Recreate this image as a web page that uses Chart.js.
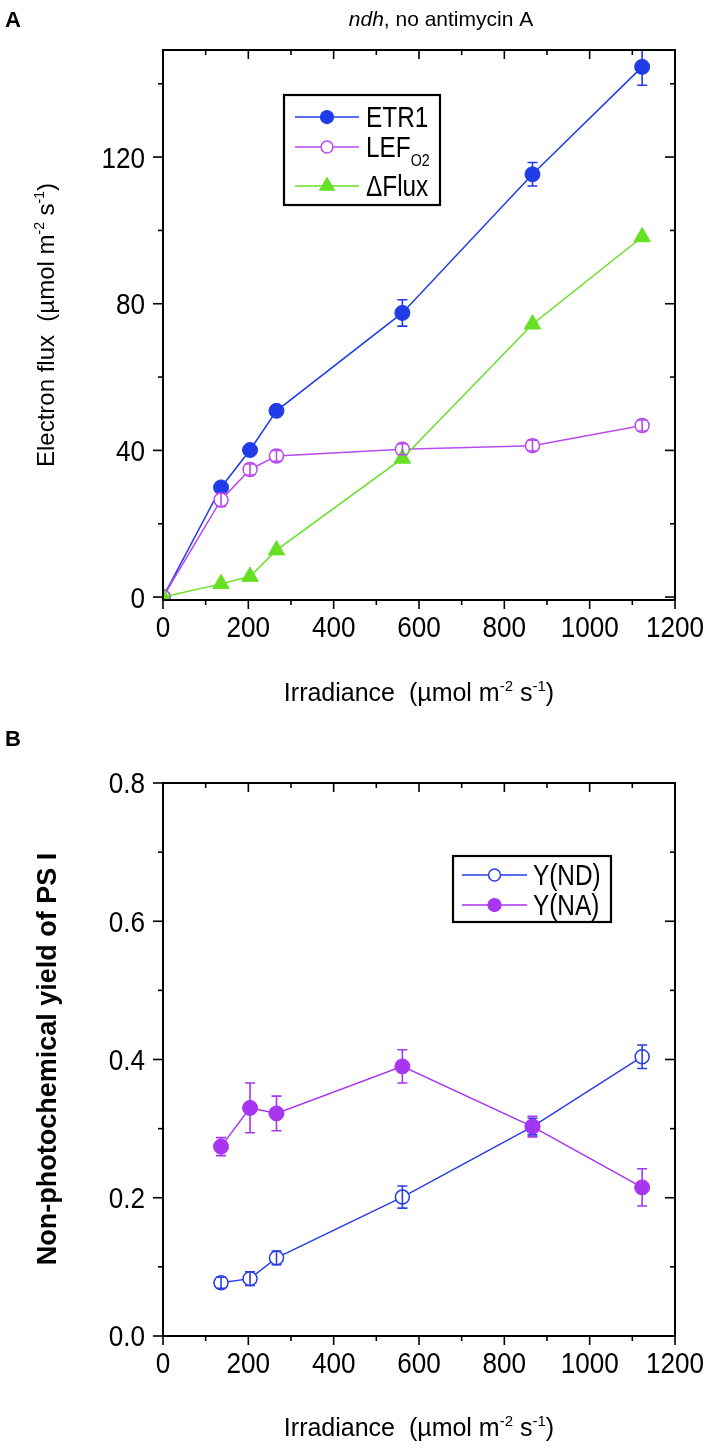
<!DOCTYPE html>
<html>
<head>
<meta charset="utf-8">
<script src="https://cdn.jsdelivr.net/npm/chart.js@4.4.1/dist/chart.umd.min.js"></script>
<style>
  html, body { margin: 0; padding: 0; background: #fff; }
  body { width: 711px; height: 1448px; position: relative; overflow: hidden; }
  .panel { position: absolute; left: 0; width: 711px; }
  #panelA { top: 0; height: 720px; }
  #panelB { top: 720px; height: 728px; }
</style>
</head>
<body>
<div class="panel" id="panelA"><canvas id="chartA" width="711" height="720"></canvas></div>
<div class="panel" id="panelB"><canvas id="chartB" width="711" height="728"></canvas></div>
<script>
// panel A: electron flux vs irradiance
const irradianceA = [0, 136, 204, 266, 561, 866, 1123];
const etr1 = [0, 29.9, 40.1, 50.8, 77.5, 115.3, 144.6];
const etr1Err = [0, 1.2, 1.2, 1.2, 3.6, 3.2, 5.0];
const lefO2 = [0, 26.5, 34.8, 38.5, 40.3, 41.3, 46.8];
const lefO2Err = [0, 1.8, 1.5, 1.5, 1.5, 1.5, 1.5];
const deltaFlux = [0, 3.6, 5.6, 12.8, 37.8, 74.4, 98.2];

// panel B: non-photochemical yield of PS I
const irradianceB = [136, 204, 266, 561, 866, 1123];
const yND = [0.077, 0.083, 0.113, 0.201, 0.303, 0.404];
const yNDErr = [0.008, 0.01, 0.01, 0.016, 0.012, 0.017];
const yNA = [0.274, 0.330, 0.322, 0.390, 0.303, 0.215];
const yNAErr = [0.013, 0.036, 0.025, 0.024, 0.015, 0.027];

// tick values
const xMajor = [0, 200, 400, 600, 800, 1000, 1200];
const xMinor = [100, 300, 500, 700, 900, 1100];
const yMajorA = [0, 40, 80, 120];
const yMinorA = [20, 60, 100, 140];
const yMajorB = [0, 0.2, 0.4, 0.6, 0.8];
const yMinorB = [0.1, 0.3, 0.5, 0.7];

const SANS = "'Liberation Sans', Arial, sans-serif";

const pts = (xs, ys) => xs.map((x, i) => ({ x, y: ys[i] }));

// draws text made of pieces (normal, italic, bold, super/subscript), squeezed by sx
function drawRich(ctx, parts, x, y, size, align, sx = 1) {
  const fontFor = k => {
    const small = k === "sup" || k === "sub";
    const w = (k === "b" || k === "B") ? "bold " : "";
    return (k === "i" ? "italic " : "") + w + (small ? Math.round(size * 0.6) : size) + "px " + SANS;
  };
  let total = 0;
  for (const [t, k] of parts) { ctx.font = fontFor(k); total += ctx.measureText(t).width; }
  let cx = align === "left" ? 0 : align === "right" ? -total : -total / 2;
  ctx.save();
  ctx.translate(x, y);
  ctx.scale(sx, 1);
  ctx.textAlign = "left";
  ctx.textBaseline = "alphabetic";
  for (const [t, k] of parts) {
    ctx.font = fontFor(k);
    const dy = k === "sup" ? -size * 0.42 : k === "sub" ? size * 0.3 : 0;
    ctx.fillText(t, cx, dy);
    cx += ctx.measureText(t).width;
  }
  ctx.restore();
}

function drawMarker(ctx, style, r, x, y, fill, stroke) {
  ctx.beginPath();
  if (style === "triangle") {
    ctx.moveTo(x, y - r);
    ctx.lineTo(x + r * Math.sin(Math.PI / 3), y + r / 2);
    ctx.lineTo(x - r * Math.sin(Math.PI / 3), y + r / 2);
    ctx.closePath();
  } else {
    ctx.arc(x, y, r, 0, Math.PI * 2);
  }
  ctx.fillStyle = fill;
  ctx.fill();
  ctx.strokeStyle = stroke;
  ctx.lineWidth = 1.5;
  ctx.stroke();
}

const errorBars = {
  id: "errorBars",
  afterDatasetsDraw(chart) {
    const { ctx, chartArea: a, scales: { x, y } } = chart;
    ctx.save();
    ctx.beginPath();
    ctx.rect(a.left, a.top, a.right - a.left, a.bottom - a.top);
    ctx.clip();
    chart.data.datasets.forEach(ds => {
      if (!ds.errors) return;
      ctx.strokeStyle = ds.borderColor;
      ctx.lineWidth = 1.6;
      ds.data.forEach((p, i) => {
        const e = ds.errors[i];
        if (!e) return;
        const px = x.getPixelForValue(p.x);
        const top = y.getPixelForValue(p.y + e);
        const bot = y.getPixelForValue(p.y - e);
        ctx.beginPath();
        ctx.moveTo(px, top); ctx.lineTo(px, bot);
        ctx.moveTo(px - 5, top); ctx.lineTo(px + 5, top);
        ctx.moveTo(px - 5, bot); ctx.lineTo(px + 5, bot);
        ctx.stroke();
      });
    });
    ctx.restore();
  }
};

// box, ticks on four sides and tick labels
const frame = {
  id: "frame",
  afterDatasetsDraw(chart, args, opts) {
    const { ctx, chartArea: a, scales: { x, y } } = chart;
    ctx.save();
    ctx.strokeStyle = "#000";
    ctx.lineWidth = 1.6;
    const seg = (x1, y1, x2, y2) => { ctx.beginPath(); ctx.moveTo(x1, y1); ctx.lineTo(x2, y2); ctx.stroke(); };
    const xt = (vals, len) => vals.forEach(v => {
      const px = x.getPixelForValue(v);
      seg(px, a.bottom, px, a.bottom + len);
      seg(px, a.top, px, a.top + len);
    });
    const yt = (vals, len) => vals.forEach(v => {
      const py = y.getPixelForValue(v);
      if (py < a.top - 1 || py > a.bottom + 1) return;
      seg(a.left - len, py, a.left, py);
      seg(a.right - len, py, a.right, py);
    });
    xt(opts.xMajor, 9); xt(opts.xMinor, 5);
    yt(opts.yMajor, 10); yt(opts.yMinor, 5);
    ctx.lineWidth = 2;
    ctx.strokeRect(a.left, a.top, a.right - a.left, a.bottom - a.top);

    ctx.fillStyle = "#000";
    const fs = 29;
    opts.xMajor.forEach(v => {
      drawRich(ctx, [[String(v), "n"]], x.getPixelForValue(v), a.bottom + 37, fs, "center", 0.9);
    });
    opts.yMajor.forEach(v => {
      drawRich(ctx, [[opts.yFormat(v), "n"]], a.left - 18, y.getPixelForValue(v) + fs * 0.36, fs, "right", 0.9);
    });
    ctx.restore();
  }
};

const legendBox = {
  id: "legendBox",
  afterDraw(chart, args, opts) {
    const { ctx } = chart;
    const [l, t, r, b] = opts.box;
    ctx.save();
    ctx.fillStyle = "#fff";
    ctx.fillRect(l, t, r - l, b - t);
    ctx.strokeStyle = "#000";
    ctx.lineWidth = 2.2;
    ctx.strokeRect(l, t, r - l, b - t);
    chart.data.datasets.forEach((ds, i) => {
      const ry = opts.rows[i];
      ctx.strokeStyle = ds.borderColor;
      ctx.lineWidth = 1.5;
      ctx.beginPath();
      ctx.moveTo(opts.lineX[0], ry); ctx.lineTo(opts.lineX[1], ry);
      ctx.stroke();
      const mx = (opts.lineX[0] + opts.lineX[1]) / 2;
      drawMarker(ctx, ds.pointStyle, ds.pointRadius * 0.85, mx, ry, ds.pointBackgroundColor, ds.borderColor);
      ctx.fillStyle = "#000";
      drawRich(ctx, ds.legendParts, opts.textX, ry + opts.size * 0.36, opts.size, "left", 0.84);
    });
    ctx.restore();
  }
};

const texts = {
  id: "texts",
  afterDraw(chart, args, opts) {
    const { ctx } = chart;
    ctx.save();
    ctx.fillStyle = "#000";
    opts.items.forEach(it => {
      ctx.save();
      ctx.translate(it.x, it.y);
      if (it.rotate) ctx.rotate(it.rotate);
      drawRich(ctx, it.parts, 0, it.size * 0.36, it.size, it.align, it.sx || 1);
      ctx.restore();
    });
    ctx.restore();
  }
};

const unitParts = [["(\u00b5mol m", "n"], ["-2", "sup"], [" s", "n"], ["-1", "sup"], [")", "n"]];

function axes(yMin, yMax, xHeight) {
  const hidden = { display: true, drawOnChartArea: false, drawTicks: false, color: "rgba(0,0,0,0)" };
  return {
    x: {
      type: "linear", min: 0, max: 1200,
      afterBuildTicks: s => { s.ticks = xMajor.map(v => ({ value: v })); },
      afterFit: s => { s.height = xHeight; },
      grid: hidden, border: { display: false },
      ticks: { display: false }
    },
    y: {
      type: "linear", min: yMin, max: yMax,
      afterFit: s => { s.width = 163; },
      grid: hidden, border: { display: false },
      ticks: { display: false }
    }
  };
}

const common = {
  responsive: false,
  animation: false,
  events: [],
  elements: { line: { tension: 0 } }
};

new Chart(document.getElementById("chartA"), {
  type: "line",
  data: {
    datasets: [
      {
        label: "ETR1", legendParts: [["ETR1", "n"]],
        data: pts(irradianceA, etr1), errors: etr1Err,
        borderColor: "#1f3ce8", backgroundColor: "#1f3ce8",
        pointStyle: "circle", pointRadius: 7.5, pointBackgroundColor: "#1f3ce8",
        borderWidth: 1.5, pointBorderWidth: 1, clip: 0, order: 2
      },
      {
        label: "LEF O2", legendParts: [["LEF", "n"], ["O2", "sub"]],
        data: pts(irradianceA, lefO2), errors: lefO2Err,
        borderColor: "#b84af0", backgroundColor: "#ffffff",
        pointStyle: "circle", pointRadius: 7, pointBackgroundColor: "#ffffff",
        borderWidth: 1.5, pointBorderWidth: 1.5, clip: 0, order: 1
      },
      {
        label: "\u0394Flux", legendParts: [["\u0394Flux", "n"]],
        data: pts(irradianceA, deltaFlux),
        borderColor: "#66e024", backgroundColor: "#66e024",
        pointStyle: "triangle", pointRadius: 9.5, pointBackgroundColor: "#66e024",
        borderWidth: 1.5, pointBorderWidth: 1, clip: 0, order: 0
      }
    ]
  },
  options: {
    ...common,
    layout: { padding: { top: 50, right: 36, left: 0, bottom: 0 } },
    scales: axes(-0.8, 149.2, 120),
    plugins: {
      legend: { display: false },
      tooltip: { enabled: false },
      frame: { xMajor, xMinor, yMajor: yMajorA, yMinor: yMinorA, yFormat: v => String(v) },
      legendBox: { box: [284, 95, 440, 205], rows: [117, 147, 186], lineX: [295, 359], textX: 366, size: 29 },
      texts: {
        items: [
          { parts: [["A", "b"]], x: 5, y: 19, size: 22, align: "left" },
          { parts: [["ndh", "i"], [", no antimycin A", "n"]], x: 441, y: 18, size: 21 },
          { parts: [["Irradiance  ", "n"], ...unitParts], x: 419, y: 692, size: 25 },
          { parts: [["Electron flux  ", "n"], ...unitParts], x: 45, y: 325, size: 24, rotate: -Math.PI / 2 }
        ]
      }
    }
  },
  plugins: [errorBars, frame, legendBox, texts]
});

new Chart(document.getElementById("chartB"), {
  type: "line",
  data: {
    datasets: [
      {
        label: "Y(ND)", legendParts: [["Y(ND)", "n"]],
        data: pts(irradianceB, yND), errors: yNDErr,
        borderColor: "#2a3de6", backgroundColor: "#ffffff",
        pointStyle: "circle", pointRadius: 7, pointBackgroundColor: "#ffffff",
        borderWidth: 1.5, pointBorderWidth: 1.5, clip: 0, order: 1
      },
      {
        label: "Y(NA)", legendParts: [["Y(NA)", "n"]],
        data: pts(irradianceB, yNA), errors: yNAErr,
        borderColor: "#a835f0", backgroundColor: "#a835f0",
        pointStyle: "circle", pointRadius: 7.5, pointBackgroundColor: "#a835f0",
        borderWidth: 1.5, pointBorderWidth: 1, clip: 0, order: 0
      }
    ]
  },
  options: {
    ...common,
    layout: { padding: { top: 63, right: 36, left: 0, bottom: 0 } },
    scales: axes(0, 0.8, 112),
    plugins: {
      legend: { display: false },
      tooltip: { enabled: false },
      frame: { xMajor, xMinor, yMajor: yMajorB, yMinor: yMinorB, yFormat: v => v.toFixed(1) },
      legendBox: { box: [453, 136, 611, 202], rows: [155, 185], lineX: [462, 527], textX: 533, size: 29 },
      texts: {
        items: [
          { parts: [["B", "b"]], x: 5, y: 18, size: 22, align: "left" },
          { parts: [["Irradiance  ", "n"], ...unitParts], x: 419, y: 707, size: 25 },
          { parts: [["Non-photochemical yield of PS I", "b"]], x: 46, y: 339, size: 27, rotate: -Math.PI / 2 }
        ]
      }
    }
  },
  plugins: [errorBars, frame, legendBox, texts]
});
</script>
</body>
</html>
